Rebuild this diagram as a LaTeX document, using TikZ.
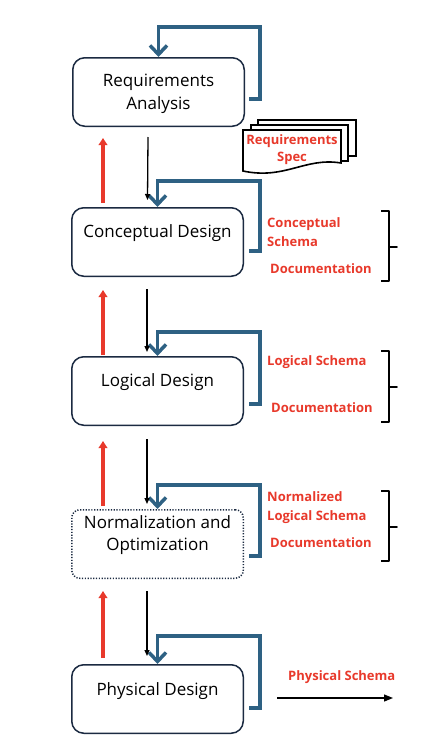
\documentclass[tikz,border=0pt]{standalone}
\usepackage{fontspec}
\setmainfont{Open Sans}
\usetikzlibrary{arrows.meta,positioning}

\definecolor{loopblue}{HTML}{2E6183}
\definecolor{boxnavy}{HTML}{1B2A41}
\definecolor{labelred}{HTML}{E8392B}

\tikzset{
	stage/.style={draw=boxnavy, line width=1.5pt, rounded corners=12pt, minimum width=171.5pt, minimum height=68.5pt},
	stagetext/.style={align=center, font=\fontsize{17}{22.5}\selectfont},
	loopback/.style={draw=loopblue, line width=3.5pt, -{Straight Barb[length=9pt,width=17pt]}},
	forward/.style={-{Triangle[length=6pt,width=5pt]}, line width=1.3pt},
	backward/.style={draw=labelred, line width=4pt, -{Triangle[length=7pt,width=8.5pt]}},
	outlabel/.style={text=labelred, font=\bfseries\fontsize{13}{19}\selectfont, align=left, anchor=west, inner sep=0pt},
	groupbrace/.style={line width=1.6pt, line join=round},
	page/.style={draw, fill=white, line width=1.6pt}
}

\begin{document}
\begin{tikzpicture}[x=1pt, y=-1pt]
		\useasboundingbox (0,0) rectangle (424,750);
		%The five stages
		\node [stage] (ra) at (158.5,92) {};
		\node [stage] (cd) at (157.5,242) {};
		\node [stage] (ld) at (157.5,391) {};
		\node [stage, rounded corners=8pt, dash pattern=on 1.2pt off 1.6pt] (no) at (157.5,544) {};
		\node [stage] (pd) at (157.5,699) {};
		%Names of the stages
		\node [stagetext] (raText) at ([yshift=-2pt]ra.center) {Requirements\\Analysis};
		\node [stagetext] (cdText) at ([yshift=9pt]cd.center) {Conceptual Design};
		\node [stagetext] (ldText) at ([yshift=9pt]ld.center) {Logical Design};
		\node [stagetext] (noText) at ([yshift=9pt]no.center) {Normalization and\\Optimization};
		\node [stagetext] (pdText) at ([yshift=8pt]pd.center) {Physical Design};
		%Iteration loops on the right of each stage
		\draw [loopback] ([xshift=4pt,yshift=-7pt]ra.east) -| ([xshift=15pt,yshift=30pt]ra.north east) -| (ra.north);
		\draw [loopback] ([xshift=5pt,yshift=-9pt]cd.east) -| ([xshift=16pt,yshift=26pt]cd.north east) -| (cd.north);
		\draw [loopback] ([xshift=5pt,yshift=-13pt]ld.east) -| ([xshift=16pt,yshift=24pt]ld.north east) -| (ld.north);
		\draw [loopback] ([xshift=5pt,yshift=-12pt]no.east) -| ([xshift=16pt,yshift=24pt]no.north east) -| (no.north);
		\draw [loopback] ([xshift=5pt,yshift=-9pt]pd.east) -| ([xshift=16pt,yshift=28pt]pd.north east) -| (pd.north);
		%Forward arrows between the stages
		\draw [forward] ([xshift=-10.5pt,yshift=-10pt]ra.south) -- ([xshift=-10pt,yshift=7pt]cd.north);
		\draw [forward] ([xshift=-10.5pt,yshift=-12pt]cd.south) -- ([xshift=-10.5pt,yshift=4pt]ld.north);
		\draw [forward] ([xshift=-10.5pt,yshift=-13pt]ld.south) -- ([xshift=-10.5pt,yshift=5pt]no.north);
		\draw [forward] ([xshift=-10.5pt,yshift=-12pt]no.south) -- ([xshift=-10.5pt,yshift=8pt]pd.north);
		%Backward arrows between the stages
		\draw [backward] ([xshift=-54.5pt,yshift=4pt]cd.north) -- ([xshift=-55.5pt,yshift=-11pt]ra.south);
		\draw [backward] ([xshift=-54.5pt,yshift=1pt]ld.north) -- ([xshift=-54.5pt,yshift=-13pt]cd.south);
		\draw [backward] ([xshift=-54.5pt,yshift=3pt]no.north) -- ([xshift=-54.5pt,yshift=-15pt]ld.south);
		\draw [backward] ([xshift=-54.5pt,yshift=6pt]pd.north) -- ([xshift=-54.5pt,yshift=-12pt]no.south);
		%Requirements document (stack of pages)
		\draw [page] (258,120) rectangle (356,156);
		\draw [page] (251,125) rectangle (348,161);
		\draw [page] (243,130) -- (341,130) -- (341,163) .. controls (305,157) and (285,180) .. (243,171) -- cycle;
		\node [outlabel, anchor=center, align=center, font=\bfseries\fontsize{13}{17}\selectfont] (rsText) at (292,150) {Requirements\\Spec};
		%Outputs of the stages
		\node [outlabel] (cdSchema) at (267,232.5) {Conceptual\\Schema};
		\node [outlabel] (cdDoc) at (270,269) {Documentation};
		\node [outlabel] (ldSchema) at (267,362) {Logical Schema};
		\node [outlabel] (ldDoc) at (271,408) {Documentation};
		\node [outlabel] (noSchema) at (267,507.5) {Normalized\\Logical Schema};
		\node [outlabel] (noDoc) at (270,543) {Documentation};
		\node [outlabel] (pdSchema) at (288,677) {Physical Schema};
		%Braces grouping the outputs
		\foreach \top/\tip/\bottom in {211/247/281, 351/387/422, 491/527/561} {
			\draw [groupbrace] (381,\top) -| (389,\tip) -- (397,\tip) -- (389,\tip) |- (381,\bottom);
		}
		%Final output
		\coordinate (pdOut) at (393,698);
		\draw [forward, line width=1.3pt, -{Triangle[length=9pt,width=7pt]}] ([xshift=33pt,yshift=1pt]pd.east) -- (pdOut);
\end{tikzpicture}
\end{document}
